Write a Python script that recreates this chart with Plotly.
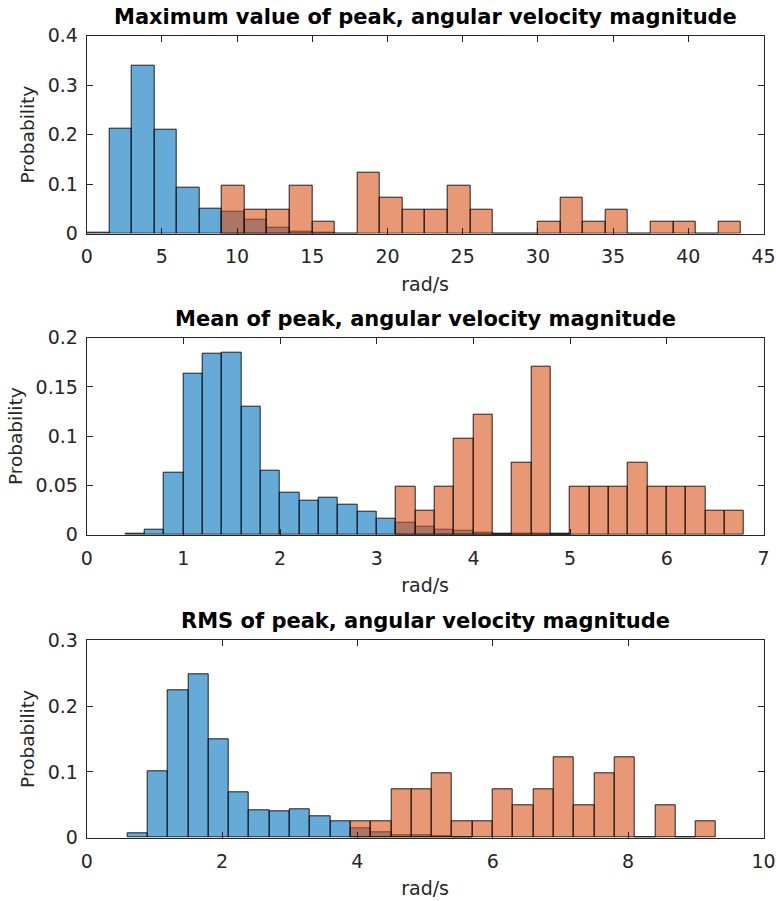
import plotly.graph_objects as go

# ---------------- data ----------------
# Plot 1: Maximum value of peak (bin width 1.5)
max_bin_width = 1.5
max_blue_left = [0, 1.5, 3, 4.5, 6, 7.5, 9, 10.5, 12, 13.5, 15]
max_blue_prob = [0.001, 0.211, 0.340, 0.209, 0.0925, 0.0497, 0.0435, 0.027, 0.0116, 0.0034, 0.001]
max_orange_left = [9, 10.5, 12, 13.5, 15, 16.5, 18, 19.5, 21, 22.5, 24, 25.5, 27, 28.5,
                   30, 31.5, 33, 34.5, 36, 37.5, 39, 40.5, 42]
max_orange_prob = [0.0976, 0.0488, 0.0488, 0.0976, 0.0244, 0.0, 0.1220, 0.0732, 0.0488, 0.0488,
                   0.0976, 0.0488, 0.0, 0.0, 0.0244, 0.0732, 0.0244, 0.0488, 0.0, 0.0244,
                   0.0244, 0.0, 0.0244]

# Plot 2: Mean of peak (bin width 0.2)
mean_bin_width = 0.2
mean_blue_left = [0.4, 0.6, 0.8, 1.0, 1.2, 1.4, 1.6, 1.8, 2.0, 2.2, 2.4, 2.6, 2.8, 3.0,
                  3.2, 3.4, 3.6, 3.8, 4.0, 4.2, 4.4, 4.6, 4.8]
mean_blue_prob = [0.001, 0.005, 0.063, 0.163, 0.184, 0.185, 0.130, 0.065, 0.0425, 0.0344,
                  0.0378, 0.0306, 0.0238, 0.0167, 0.0126, 0.0085, 0.005, 0.004, 0.0024,
                  0.0014, 0.001, 0.0008, 0.001]
mean_orange_left = [3.2, 3.4, 3.6, 3.8, 4.0, 4.2, 4.4, 4.6, 4.8, 5.0, 5.2, 5.4, 5.6, 5.8,
                    6.0, 6.2, 6.4, 6.6]
mean_orange_prob = [0.0488, 0.0244, 0.0488, 0.0976, 0.1220, 0.0, 0.0732, 0.1707, 0.0,
                    0.0488, 0.0488, 0.0488, 0.0732, 0.0488, 0.0488, 0.0488, 0.0244, 0.0244]

# Plot 3: RMS of peak (bin width 0.3)
rms_bin_width = 0.3
rms_blue_left = [0.6, 0.9, 1.2, 1.5, 1.8, 2.1, 2.4, 2.7, 3.0, 3.3, 3.6, 3.9, 4.2, 4.5,
                 4.8, 5.1, 5.4]
rms_blue_prob = [0.0071, 0.1015, 0.2234, 0.2487, 0.1497, 0.0685, 0.0416, 0.0406, 0.0426,
                 0.033, 0.0249, 0.0147, 0.008, 0.0036, 0.003, 0.002, 0.001]
rms_orange_left = [3.9, 4.2, 4.5, 4.8, 5.1, 5.4, 5.7, 6.0, 6.3, 6.6, 6.9, 7.2, 7.5, 7.8,
                   8.1, 8.4, 8.7, 9.0]
rms_orange_prob = [0.0244, 0.0244, 0.0732, 0.0732, 0.0976, 0.0244, 0.0244, 0.0732, 0.0488,
                   0.0732, 0.1220, 0.0488, 0.0976, 0.1220, 0.0, 0.0488, 0.0, 0.0244]

titles = ["Maximum value of peak, angular velocity magnitude",
          "Mean of peak, angular velocity magnitude",
          "RMS of peak, angular velocity magnitude"]
x_label = "rad/s"
y_label = "Probability"

# ---------------- styling ----------------
BLUE = "rgba(0,114,189,0.6)"
ORANGE = "rgba(217,83,25,0.6)"
EDGE = "rgba(0,0,0,0.85)"
AXC = "#262626"
FONT = "DejaVu Sans, Liberation Sans, Arial, sans-serif"

W, H = 776, 901
x_dom = [86.7 / W, 763.5 / W]
# (top px, bottom px) of each axes box
boxes = [(35.7, 233.5), (337.7, 534.7), (640.3, 837.7)]

panels = [
    (max_blue_left, max_blue_prob, max_orange_left, max_orange_prob, max_bin_width,
     [0, 45], 5, [0, 0.4], 0.1),
    (mean_blue_left, mean_blue_prob, mean_orange_left, mean_orange_prob, mean_bin_width,
     [0, 7], 1, [0, 0.2], 0.05),
    (rms_blue_left, rms_blue_prob, rms_orange_left, rms_orange_prob, rms_bin_width,
     [0, 10], 2, [0, 0.3], 0.1),
]

fig = go.Figure()
layout = dict(
    width=W, height=H,
    margin=dict(l=0, r=0, t=0, b=0, pad=0),
    paper_bgcolor="white", plot_bgcolor="white",
    barmode="overlay", bargap=0, showlegend=False,
    font=dict(family=FONT, size=19, color=AXC),
)
annotations = []

for i, (bl, bp, ol, op, bw, xr, xd, yr, yd) in enumerate(panels):
    n = i + 1
    xa = "x" if n == 1 else f"x{n}"
    ya = "y" if n == 1 else f"y{n}"
    b_centers = [v + bw / 2 for v in bl]
    o_centers = [v + bw / 2 for v in ol]
    fig.add_trace(go.Bar(x=b_centers, y=bp, width=bw, xaxis=xa, yaxis=ya,
                         marker=dict(color=BLUE, line=dict(color=EDGE, width=1))))
    fig.add_trace(go.Bar(x=o_centers, y=op, width=bw, xaxis=xa, yaxis=ya,
                         marker=dict(color=ORANGE, line=dict(color=EDGE, width=1))))
    top, bot = boxes[i]
    ydom = [1 - bot / H, 1 - top / H]
    xkey = "xaxis" if n == 1 else f"xaxis{n}"
    ykey = "yaxis" if n == 1 else f"yaxis{n}"
    layout[xkey] = dict(
        domain=x_dom, range=xr, dtick=xd, tick0=0, anchor=ya, automargin=False,
        showgrid=False, zeroline=False, showline=True, linecolor=AXC, linewidth=1,
        mirror="ticks", ticks="inside", ticklen=6, tickcolor=AXC,
        ticklabelstandoff=6,
        tickfont=dict(size=19, color=AXC, family=FONT),
        title=dict(text=x_label, font=dict(size=19, color=AXC, family=FONT), standoff=11),
    )
    layout[ykey] = dict(
        domain=ydom, range=yr, dtick=yd, tick0=0, anchor=xa, automargin=False,
        showgrid=False, zeroline=False, showline=True, linecolor=AXC, linewidth=1,
        mirror="ticks", ticks="inside", ticklen=6, tickcolor=AXC,
        ticklabelstandoff=4,
        tickfont=dict(size=19, color=AXC, family=FONT),
        title=dict(text=y_label, font=dict(size=18.5, color=AXC, family=FONT), standoff=8),
    )
    annotations.append(dict(
        text=f"<b>{titles[i]}</b>", x=(x_dom[0] + x_dom[1]) / 2, y=1 - (top - 5) / H,
        xref="paper", yref="paper", xanchor="center", yanchor="bottom",
        showarrow=False, font=dict(size=21, color="black", family=FONT),
    ))

layout["annotations"] = annotations
fig.update_layout(**layout)
fig.write_html(
    "out.html",
    post_script="document.body.style.margin='0';document.body.style.padding='0';"
                "document.documentElement.style.overflow='hidden';",
)
